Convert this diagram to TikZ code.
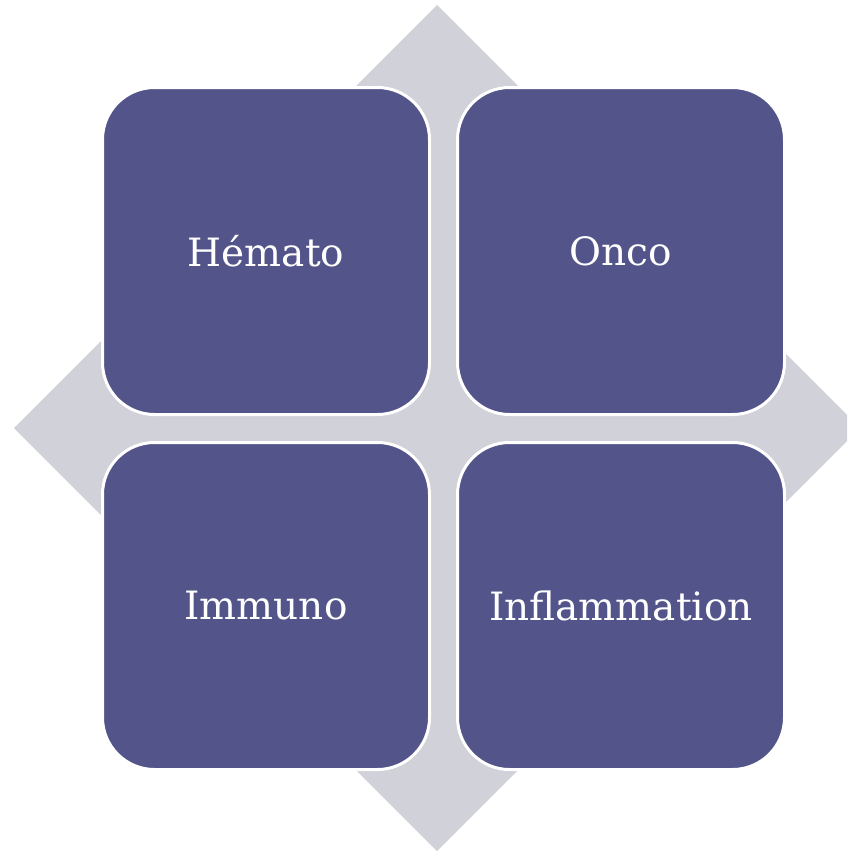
\documentclass[tikz,border=0pt]{standalone}
\usepackage{fontspec}
\setmainfont{DejaVu Serif}
\definecolor{tilepurple}{RGB}{83,84,138}
\definecolor{backgray}{RGB}{208,209,217}
\tikzset{
    tile/.style={draw=white, line width=3pt, fill=tilepurple, rounded corners=52pt,
        minimum size=327pt, text=white, font=\fontsize{39}{44}\selectfont}
}
\begin{document}
\begin{tikzpicture}[x=1pt, y=-1pt]
    \useasboundingbox (0,0) rectangle (847,851);
    \clip (0,0) rectangle (847,851);
    % diamond behind the tiles
    \fill[backgray] (437,5) -- (860,428) -- (437,851) -- (14,428) -- cycle;
    \node[tile] at (266,251) (hemato) {Hémato};
    \node[tile] at (621,251) (onco) {Onco};
    \node[tile] at (266,606) (immuno) {Immuno};
    \node[tile] at (621,606) (inflam) {Inflammation};
\end{tikzpicture}
\end{document}
